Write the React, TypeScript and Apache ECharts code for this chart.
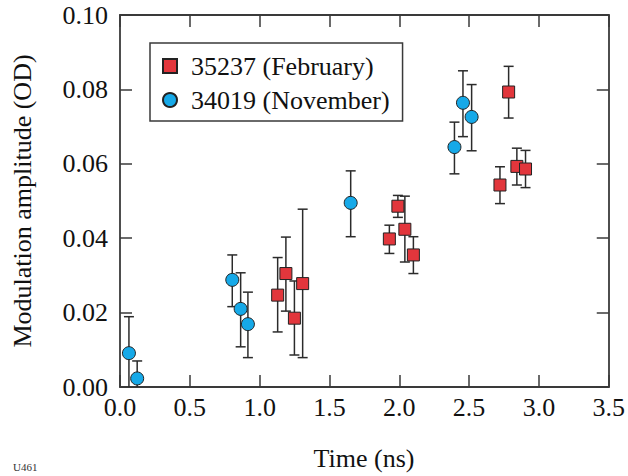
import React, { useEffect, useRef } from "react";
import * as echarts from "echarts";

// 35237 (February) — red squares
const febX = [1.129, 1.188, 1.249, 1.308, 1.929, 1.99, 2.04, 2.101, 2.721, 2.783, 2.842, 2.904];
const febY = [0.0247, 0.0305, 0.0185, 0.0278, 0.0398, 0.0486, 0.0424, 0.0355, 0.0543, 0.0793, 0.0593, 0.0586];
const febLo = [0.0148, 0.0204, 0.0086, 0.0079, 0.0359, 0.0456, 0.0336, 0.0305, 0.0493, 0.0723, 0.0543, 0.0536];
const febHi = [0.0348, 0.0403, 0.0285, 0.0478, 0.0435, 0.0515, 0.0513, 0.0404, 0.0592, 0.0862, 0.0642, 0.0636];

// 34019 (November) — blue circles
const novX = [0.064, 0.123, 0.804, 0.864, 0.916, 1.652, 2.395, 2.456, 2.518];
const novY = [0.0091, 0.0023, 0.0288, 0.021, 0.0169, 0.0495, 0.0645, 0.0764, 0.0726];
const novLo = [-0.003, -0.003, 0.0216, 0.0108, 0.0079, 0.0404, 0.0573, 0.0673, 0.0635];
const novHi = [0.0189, 0.007, 0.0355, 0.0307, 0.0255, 0.0581, 0.0712, 0.085, 0.0813];

const seriesNames = ["35237 (February)", "34019 (November)"];
const xTitle = "Time (ns)";
const yTitle = "Modulation amplitude (OD)";
const figId = "U461";

const FONT = "Liberation Serif";
const RED = "#E2363C";
const BLUE = "#16A9E8";
const AXIS = "#3a3a3a";

export default function App() {
  const ref = useRef<HTMLDivElement>(null);
  useEffect(() => {
    if (!ref.current) return;
    const chart = echarts.init(ref.current, undefined, { renderer: "svg" });

    const errRender = (params: any, api: any) => {
      const x = api.value(0);
      const lo = api.value(1);
      const hi = api.value(2);
      const p1 = api.coord([x, lo]);
      const p2 = api.coord([x, hi]);
      const cap = 5;
      const style = { stroke: "#2b2b2b", lineWidth: 1.5 };
      return {
        type: "group",
        children: [
          { type: "line", shape: { x1: p1[0], y1: p1[1], x2: p2[0], y2: p2[1] }, style },
          { type: "line", shape: { x1: p1[0] - cap, y1: p1[1], x2: p1[0] + cap, y2: p1[1] }, style },
          { type: "line", shape: { x1: p2[0] - cap, y1: p2[1], x2: p2[0] + cap, y2: p2[1] }, style },
        ],
      };
    };

    const axisCommon = {
      min: 0,
      axisLine: { show: true, onZero: false, lineStyle: { color: AXIS, width: 1.8 } },
      axisTick: { show: true, inside: true, length: 12, lineStyle: { color: AXIS, width: 1.5 } },
      splitLine: { show: false },
    };

    chart.setOption({
      animation: false,
      textStyle: { fontFamily: FONT },
      grid: { left: 120, right: 15, top: 15, bottom: 89, containLabel: false },
      xAxis: [
        {
          ...axisCommon,
          type: "value",
          max: 3.5,
          interval: 0.5,
          position: "bottom",
          axisLabel: {
            margin: 7,
            fontFamily: FONT,
            fontSize: 26,
            color: "#111",
            formatter: (v: number) => v.toFixed(1),
          },
        },
        {
          ...axisCommon,
          type: "value",
          max: 3.5,
          interval: 0.5,
          position: "top",
          axisLabel: { show: false },
        },
      ],
      yAxis: [
        {
          ...axisCommon,
          type: "value",
          max: 0.1,
          interval: 0.02,
          position: "left",
          axisLabel: {
            margin: 12,
            fontFamily: FONT,
            fontSize: 26,
            color: "#111",
            formatter: (v: number) => v.toFixed(2),
          },
        },
        {
          ...axisCommon,
          type: "value",
          max: 0.1,
          interval: 0.02,
          position: "right",
          axisLabel: { show: false },
        },
      ],
      legend: {
        data: seriesNames,
        orient: "vertical",
        left: 150,
        top: 43,
        padding: [10, 13, 8, 12],
        itemGap: 8,
        itemWidth: 14,
        itemHeight: 14,
        borderColor: AXIS,
        borderWidth: 1.5,
        borderRadius: 0,
        textStyle: { fontFamily: FONT, fontSize: 26, color: "#111", padding: [0, 0, 0, 9] },
      },
      series: [
        {
          type: "custom",
          renderItem: errRender,
          clip: true,
          data: febX.map((x, i) => [x, febLo[i], febHi[i]]),
          encode: { x: 0, y: [1, 2] },
          z: 1,
          silent: true,
        },
        {
          type: "custom",
          renderItem: errRender,
          clip: true,
          data: novX.map((x, i) => [x, novLo[i], novHi[i]]),
          encode: { x: 0, y: [1, 2] },
          z: 1,
          silent: true,
        },
        {
          name: seriesNames[0],
          type: "scatter",
          symbol: "rect",
          symbolSize: 12,
          data: febX.map((x, i) => [x, febY[i]]),
          itemStyle: { color: RED, borderColor: "#222", borderWidth: 1, opacity: 1 },
          z: 3,
        },
        {
          name: seriesNames[1],
          type: "scatter",
          symbol: "circle",
          symbolSize: 13,
          data: novX.map((x, i) => [x, novY[i]]),
          itemStyle: { color: BLUE, borderColor: "#222", borderWidth: 1, opacity: 1 },
          z: 3,
        },
      ],
      graphic: [
        {
          type: "text",
          x: 364,
          y: 458,
          style: {
            text: xTitle,
            fontFamily: FONT,
            fontSize: 26,
            fill: "#111",
            textAlign: "center",
            textVerticalAlign: "middle",
          },
        },
        {
          type: "text",
          x: 22,
          y: 201,
          rotation: Math.PI / 2,
          style: {
            text: yTitle,
            fontFamily: FONT,
            fontSize: 26,
            fill: "#111",
            textAlign: "center",
            textVerticalAlign: "middle",
          },
        },
        {
          type: "text",
          x: 13,
          y: 467,
          style: {
            text: figId,
            fontFamily: FONT,
            fontSize: 11,
            fill: "#333",
            textAlign: "left",
            textVerticalAlign: "middle",
          },
        },
      ],
    });
    return () => chart.dispose();
  }, []);
  return (
    <div
      ref={ref}
      style={{ position: "fixed", left: 0, top: 0, width: 628, height: 476, background: "#fff" }}
    />
  );
}
